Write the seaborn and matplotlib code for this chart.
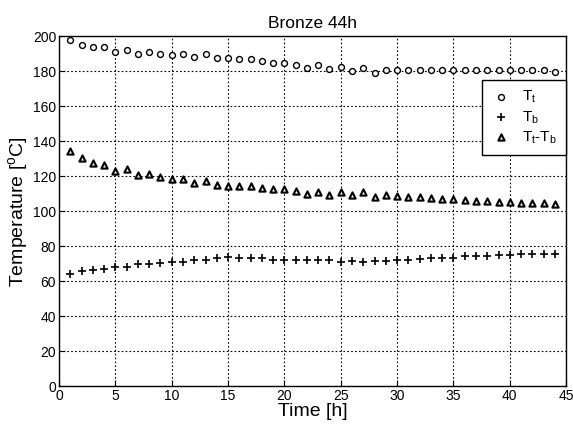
"""Recreate the Bronze 44h temperature chart."""

import matplotlib

matplotlib.use("Agg")

import matplotlib.pyplot as plt
import pandas as pd
import seaborn as sns

hours = list(range(1, 45))
t_top = [198, 195, 193.5, 193.5, 191, 191.8, 190, 190.7, 189.5, 189.3,
         189.7, 188, 189.7, 187.6, 187.4, 187.2, 187, 185.9, 184.4, 184.8,
         183.4, 181.9, 183.3, 181, 182.5, 180.2, 181.9, 179.2, 180.4, 180.4,
         180.4, 180.4, 180.4, 180.4, 180.4, 180.4, 180.4, 180.4, 180.4, 180.4,
         180.4, 180.4, 180.4, 179.6]
t_bottom = [64.3, 65.6, 66.5, 66.9, 68.1, 68.3, 69.6, 70, 70.6, 71.1,
            70.9, 71.9, 72.2, 73, 73.9, 73.3, 73.3, 73.1, 72, 71.9,
            71.9, 71.9, 72, 72, 70.7, 71.3, 70.7, 71.3, 71.7, 72.2,
            72.2, 72.6, 73.1, 73.5, 73.5, 74.3, 74.4, 74.6, 75, 75.2,
            75.6, 75.6, 75.4, 75.4]
t_diff = [134.3, 130.1, 127.6, 126.5, 123.2, 123.8, 120.8, 121.5, 119.6, 118.5,
          118.5, 116.2, 117.5, 115, 114.3, 114.3, 114.1, 113.1, 112.4, 112.9,
          111.6, 110, 111, 109.5, 110.7, 109.3, 110.7, 108.2, 109.1, 108.7,
          108.2, 107.8, 107.3, 106.9, 106.7, 106.3, 105.9, 105.6, 105.4, 105.4,
          104.8, 104.6, 104.6, 104]

df = pd.DataFrame({"hour": hours, "tt": t_top, "tb": t_bottom, "diff": t_diff})

sns.set_style("ticks")
plt.rcParams["font.family"] = ["Liberation Sans", "DejaVu Sans"]
plt.rcParams["mathtext.fontset"] = "custom"
plt.rcParams["mathtext.rm"] = "Liberation Sans"
plt.rcParams["mathtext.it"] = "Liberation Sans"
plt.rcParams["text.color"] = "black"
plt.rcParams["axes.labelcolor"] = "black"
plt.rcParams["xtick.color"] = "black"
plt.rcParams["ytick.color"] = "black"

fig = plt.figure(figsize=(5.73, 4.3), dpi=100)
ax = fig.add_axes([0.103, 0.102, 0.885, 0.814])

sns.scatterplot(data=df, x="hour", y="tt", marker="o", s=18, facecolor="white",
                edgecolor="black", linewidth=1.0, label=r"$\mathrm{T_t}$", ax=ax)
sns.scatterplot(data=df, x="hour", y="tb", marker="+", s=36, color="black",
                linewidth=1.2, label=r"$\mathrm{T_b}$", ax=ax)
sns.scatterplot(data=df, x="hour", y="diff", marker="^", s=20, facecolor="white",
                edgecolor="black", linewidth=1.5, label=r"$\mathrm{T_t}$-$\mathrm{T_b}$", ax=ax)

ax.set_xlim(0, 45)
ax.set_ylim(0, 200)
ax.set_xticks(range(0, 46, 5))
ax.set_yticks(range(0, 201, 20))
ax.grid(True, linestyle=(0, (1.5, 2)), color="black", linewidth=0.8)
ax.tick_params(direction="in", labelsize=10, length=4, pad=2)
for spine in ax.spines.values():
    spine.set_visible(True)
    spine.set_color("black")
    spine.set_linewidth(1.0)

ax.set_title("Bronze 44h", fontsize=12.5)
ax.set_xlabel("Time [h]", fontsize=14, labelpad=0)
ax.set_ylabel(r"Temperature [$\mathrm{^oC}$]", fontsize=14, labelpad=2)

legend = ax.legend(loc="upper right", bbox_to_anchor=(1.0, 0.875), borderaxespad=0,
                   fancybox=False, edgecolor="black", framealpha=1, fontsize=11,
                   handlelength=1.2, handletextpad=0.8, labelspacing=0.25,
                   borderpad=0.6)
legend.get_frame().set_linewidth(1.0)

fig.savefig("out.png", dpi=100)
plt.close(fig)
